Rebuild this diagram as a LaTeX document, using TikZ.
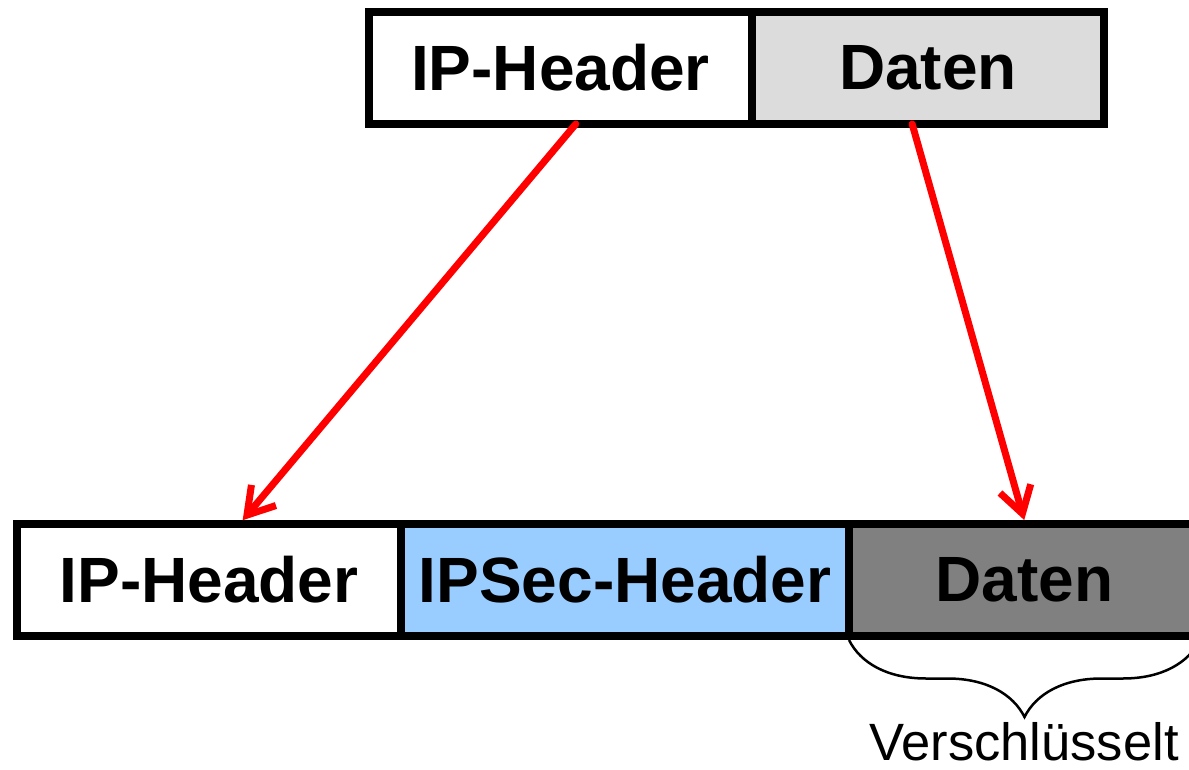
\documentclass[tikz,border=0pt]{standalone}
\usepackage{fontspec}
\setmainfont{Liberation Sans}
\usetikzlibrary{arrows.meta,decorations.pathreplacing,calc}
\definecolor{lightgraybox}{HTML}{DCDCDC}
\definecolor{ipsecblue}{HTML}{99CCFF}
\definecolor{darkgraybox}{HTML}{808080}
\begin{document}
\begin{tikzpicture}[x=1pt,y=-1pt,
  field/.style={draw=black, line width=8pt, rectangle, inner sep=0pt, outer sep=0pt,
    minimum height=112pt, font=\fontsize{64}{76}\selectfont\bfseries},
  redarrow/.style={draw=red, line width=7pt, line cap=round,
    -{Straight Barb[length=26pt,width=32pt]}, shorten >=1pt},
  bracestyle/.style={decorate, decoration={brace, mirror, amplitude=77pt}, line width=2.5pt}
]
\useasboundingbox (0,0) rectangle (1189,770);
% top packet
\node[field, fill=white, minimum width=383pt] (iph) at (560.5,68) {IP-Header};
\node[field, fill=lightgraybox, minimum width=352pt] (dat) at (928,68) {Daten};
% bottom packet
\node[field, fill=white, minimum width=384pt] (bip) at (209,580) {IP-Header};
\node[field, fill=ipsecblue, minimum width=448pt] (bsec) at (625,580) {IPSec-Header};
\node[field, fill=darkgraybox, minimum width=351pt] (bdat) at (1024.5,580) {Daten};
% arrows
\draw[redarrow] ($(iph.south west)!0.54!(iph.south east)$) -- ($(bip.north west)!0.586!(bip.north east)+(0,-3)$);
\draw[redarrow] ($(dat.south west)!0.455!(dat.south east)$) -- ($(bdat.north)+(0,-3)$);
% brace
\coordinate (bl) at ($(bdat.south west)+(0,4)$);
\coordinate (br) at ($(bdat.south east)+(0,4)$);
\draw[bracestyle] (bl) -- (br);
\node[anchor=base, inner sep=0pt, font=\fontsize{52.5}{60}\selectfont] (enc) at (1024,760) {Verschlüsselt};
\end{tikzpicture}
\end{document}
